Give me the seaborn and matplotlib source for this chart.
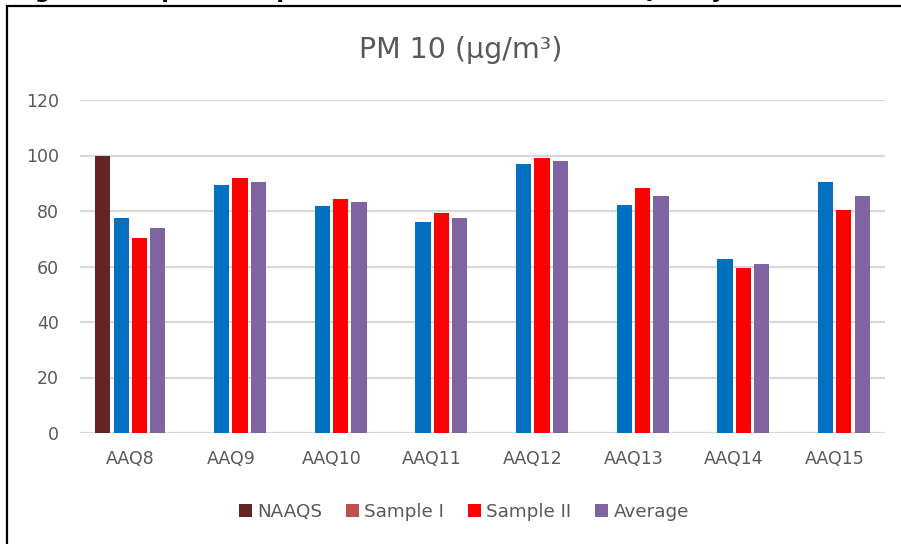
import numpy as np
import pandas as pd
import matplotlib
matplotlib.use("Agg")
import matplotlib.pyplot as plt
from matplotlib.patches import Patch, Rectangle
import seaborn as sns

categories = ["AAQ8", "AAQ9", "AAQ10", "AAQ11", "AAQ12", "AAQ13", "AAQ14", "AAQ15"]
naaqs = [100, np.nan, np.nan, np.nan, np.nan, np.nan, np.nan, np.nan]
sample_1 = [77.3, 89.2, 81.7, 75.9, 97.1, 82.0, 62.6, 90.6]
sample_2 = [70.3, 92.0, 84.4, 79.2, 99.0, 88.4, 59.5, 80.2]
average = [73.7, 90.4, 83.1, 77.6, 98.1, 85.3, 60.9, 85.3]
series_names = ["NAAQS", "Sample I", "Sample II", "Average"]
bar_colors = ["#632523", "#0070C0", "#FF0000", "#8064A2"]
legend_colors = ["#632523", "#C0504D", "#FF0000", "#8064A2"]
y_ticks = [0, 20, 40, 60, 80, 100, 120]

rows = []
for name, vals in zip(series_names, [naaqs, sample_1, sample_2, average]):
    for c, v in zip(categories, vals):
        rows.append({"Station": c, "Series": name, "Value": v})
df = pd.DataFrame(rows)

sns.set_theme(style="white")
plt.rcParams["font.family"] = ["DejaVu Sans"]

fig = plt.figure(figsize=(9.01, 5.44), dpi=100)
ax = fig.add_axes([80/901, 1-433/544, (885-80)/901, (433-100)/544])

sns.barplot(data=df, x="Station", y="Value", hue="Series", order=categories,
            hue_order=series_names, palette=bar_colors, width=0.73, gap=0.17,
            ax=ax, legend=False, saturation=1, linewidth=0)

ax.set_ylim(0, 120)
ax.set_yticks(y_ticks)
ax.set_xlim(-0.5, len(categories) - 0.5)
ax.grid(axis="y", color="#D9D9D9", linewidth=1.6)
ax.set_axisbelow(True)
for s in ax.spines.values():
    s.set_visible(False)
ax.tick_params(axis="both", length=0, labelsize=12.5, labelcolor="#595959")
ax.tick_params(axis="y", pad=15)
ax.tick_params(axis="x", pad=12)
ax.set_xlabel("")
ax.set_ylabel("")

fig.text(461/901, 1-50/544, "PM 10 (µg/m³)", ha="center", va="center",
         fontsize=20.5, color="#595959")

handles = [Patch(facecolor=c, edgecolor="none") for c in legend_colors]
fig.legend(handles, series_names, loc="center", bbox_to_anchor=(464/901, 1-512/544),
           ncol=4, frameon=False, fontsize=13.2, labelcolor="#595959",
           handlelength=0.7, handleheight=0.7, handletextpad=0.3, columnspacing=1.3)

# chart border (partially cut off like the source)
fig.patches.append(Rectangle((7/901, -0.1), 1.2, 1.1 - 6/544, transform=fig.transFigure,
                             fill=False, edgecolor="black", linewidth=1.6))

# cropped caption above chart (only its lower edge is visible, as in the source)
fig.text(12/901, 1+2/544, "Figure : Graphical Representation of Ambient Air Quality of PM10",
         ha="left", va="baseline", fontsize=16, fontweight="bold", color="black")

fig.savefig("out.png", dpi=100)
